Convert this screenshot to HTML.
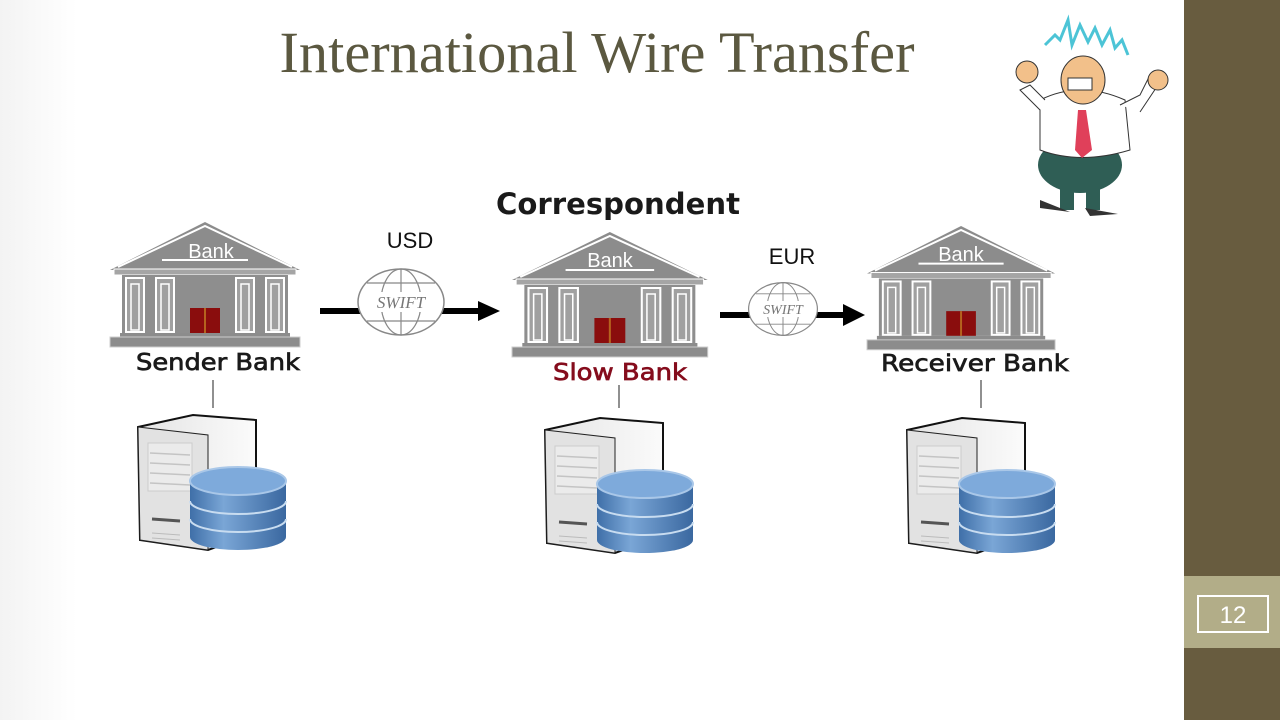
<!DOCTYPE html>
<html><head><meta charset="utf-8"><style>
html,body{margin:0;padding:0;width:1280px;height:720px;overflow:hidden;background:#fff}
</style></head><body>
<svg width="1280" height="720" viewBox="0 0 1280 720" xmlns="http://www.w3.org/2000/svg">
<defs>
<linearGradient id="bg" x1="0" y1="0" x2="1" y2="0"><stop offset="0" stop-color="#f3f3f3"/><stop offset="0.06" stop-color="#fff"/></linearGradient>
<linearGradient id="cyl" x1="0" y1="0" x2="1" y2="0"><stop offset="0" stop-color="#3f6fa8"/><stop offset="0.35" stop-color="#7aa6d6"/><stop offset="1" stop-color="#3a68a0"/></linearGradient>
<linearGradient id="tw" x1="0" y1="0" x2="1" y2="0"><stop offset="0" stop-color="#e4e4e4"/><stop offset="1" stop-color="#fbfbfb"/></linearGradient>
<g id="bank">
<polygon points="0,48 95,0 190,48" fill="#8c8c8c"/>
<polyline points="8,45 95,4 182,45" fill="none" stroke="#fff" stroke-width="2"/>
<line x1="52" y1="38" x2="138" y2="38" stroke="#fff" stroke-width="2"/>
<rect x="4" y="47" width="182" height="6" fill="#a5a5a5" stroke="#fff" stroke-width="1"/>
<rect x="12" y="53" width="166" height="58" fill="#8e8e8e"/>
<g fill="#a0a0a0" stroke="#fff" stroke-width="2">
<rect x="16" y="56" width="18" height="54"/><rect x="46" y="56" width="18" height="54"/>
<rect x="126" y="56" width="18" height="54"/><rect x="156" y="56" width="18" height="54"/>
</g>
<g fill="none" stroke="#fff" stroke-width="1.5">
<rect x="21" y="62" width="8" height="46"/><rect x="51" y="62" width="8" height="46"/>
<rect x="131" y="62" width="8" height="46"/><rect x="161" y="62" width="8" height="46"/>
</g>
<rect x="80" y="86" width="30" height="25" fill="#8a0d0d"/>
<line x1="95" y1="86" x2="95" y2="111" stroke="#b5631e" stroke-width="2"/>
<rect x="10" y="111" width="170" height="4" fill="#8c8c8c"/>
<rect x="0" y="115" width="190" height="10" fill="#8c8c8c" stroke="#ccc" stroke-width="1"/>
</g>
<g id="server">
<polygon points="0,12 55,0 118,5 118,118 70,135 2,125" fill="url(#tw)" stroke="#111" stroke-width="2"/>
<polygon points="0,12 70,20 70,135 2,125" fill="#e2e2e2" stroke="#222" stroke-width="1"/>
<rect x="10" y="28" width="44" height="48" fill="#ebebeb" stroke="#ccc"/>
<g stroke="#c4c4c4" stroke-width="1.5"><line x1="12" y1="38" x2="52" y2="40"/><line x1="12" y1="48" x2="52" y2="50"/><line x1="12" y1="58" x2="52" y2="60"/><line x1="12" y1="68" x2="52" y2="70"/></g>
<line x1="14" y1="104" x2="42" y2="106" stroke="#555" stroke-width="3"/>
<g stroke="#bbb"><line x1="14" y1="118" x2="42" y2="120"/><line x1="14" y1="123" x2="42" y2="125"/></g>
<path d="M52,66 L52,122 A48,13 0 0 0 148,122 L148,66 Z" fill="url(#cyl)"/>
<path d="M52,86 A48,13 0 0 0 148,86 M52,104 A48,13 0 0 0 148,104" fill="none" stroke="#c8dcf0" stroke-width="2"/>
<ellipse cx="100" cy="66" rx="48" ry="14" fill="#7eaadb" stroke="#a9c7e8" stroke-width="2"/>
</g>
<g id="swift">
<ellipse cx="0" cy="0" rx="43" ry="33" fill="#fff" stroke="#888" stroke-width="1.5"/>
<ellipse cx="0" cy="0" rx="20" ry="33" fill="none" stroke="#888" stroke-width="1.2"/>
<line x1="0" y1="-33" x2="0" y2="33" stroke="#888" stroke-width="1.2"/>
<line x1="-34" y1="-19" x2="34" y2="-19" stroke="#888" stroke-width="1.2"/>
<line x1="-34" y1="19" x2="34" y2="19" stroke="#888" stroke-width="1.2"/>
<rect x="-38" y="-10" width="76" height="20" fill="#fff"/>
</g>
</defs>
<rect width="1280" height="720" fill="url(#bg)"/>
<rect x="1184" y="0" width="96" height="720" fill="#685c3f"/>
<rect x="1184" y="576" width="96" height="72" fill="#b2ad88"/>
<rect x="1198" y="596" width="70" height="36" fill="none" stroke="#fff" stroke-width="2"/>
<text x="1233" y="623" font-family="Liberation Sans, sans-serif" font-size="24" fill="#fff" text-anchor="middle">12</text>

<text x="597" y="72" font-family="Liberation Serif, serif" font-size="58" fill="#5b5840" text-anchor="middle" textLength="635" lengthAdjust="spacingAndGlyphs">International Wire Transfer</text>

<g>
<polyline points="1045,45 1055,35 1060,40 1068,20 1072,45 1080,25 1088,42 1095,28 1102,45 1110,30 1115,48 1122,40 1128,55" fill="none" stroke="#4cc4d6" stroke-width="3"/>
<ellipse cx="1080" cy="165" rx="42" ry="28" fill="#2f5e55"/>
<path d="M1040,100 Q1080,80 1125,100 L1130,150 Q1080,165 1040,150 Z" fill="#fff" stroke="#333"/>
<polygon points="1078,110 1086,110 1092,150 1082,158 1075,150" fill="#e0405a"/>
<path d="M1040,110 L1020,90 L1030,85 L1045,100" fill="#fff" stroke="#333"/>
<path d="M1120,105 L1140,95 L1150,75 L1160,82 L1140,112" fill="#fff" stroke="#333"/>
<circle cx="1027" cy="72" r="11" fill="#f2c08a" stroke="#333"/>
<circle cx="1158" cy="80" r="10" fill="#f2c08a" stroke="#333"/>
<ellipse cx="1083" cy="80" rx="22" ry="24" fill="#f2c08a" stroke="#333"/>
<rect x="1068" y="78" width="24" height="12" fill="#fff" stroke="#333"/>
<rect x="1060" y="180" width="14" height="30" fill="#2f5e55"/>
<rect x="1086" y="180" width="14" height="30" fill="#2f5e55"/>
<polygon points="1040,200 1070,212 1040,208" fill="#333"/>
<polygon points="1085,208 1118,214 1090,216" fill="#333"/>
</g>

<use href="#bank" x="110" y="222"/>
<text x="211" y="258" font-family="Liberation Sans, sans-serif" font-size="20" fill="#fff" text-anchor="middle">Bank</text>
<use href="#bank" transform="translate(512,232) scale(1.03,1)"/>
<text x="610" y="267" font-family="Liberation Sans, sans-serif" font-size="20" fill="#fff" text-anchor="middle">Bank</text>
<use href="#bank" transform="translate(867,226) scale(0.99,0.99)"/>
<text x="961" y="261" font-family="Liberation Sans, sans-serif" font-size="20" fill="#fff" text-anchor="middle">Bank</text>

<g font-family="DejaVu Sans, sans-serif" font-size="23" stroke-width="0.7">
<text x="218" y="370" text-anchor="middle" fill="#1a1a1a" stroke="#1a1a1a" textLength="164" lengthAdjust="spacingAndGlyphs">Sender Bank</text>
<text x="620" y="380" text-anchor="middle" fill="#850c1c" stroke="#850c1c" textLength="134" lengthAdjust="spacingAndGlyphs">Slow Bank</text>
<text x="975" y="371" text-anchor="middle" fill="#1a1a1a" stroke="#1a1a1a" textLength="188" lengthAdjust="spacingAndGlyphs">Receiver Bank</text>
</g>
<text x="618" y="214" font-family="DejaVu Sans, sans-serif" text-anchor="middle" fill="#1a1a1a" font-size="29" font-weight="bold" textLength="244" lengthAdjust="spacingAndGlyphs">Correspondent</text>
<g font-family="Liberation Sans, sans-serif" font-size="22" fill="#111" text-anchor="middle">
<text x="410" y="248">USD</text><text x="792" y="264">EUR</text>
</g>

<rect x="320" y="308" width="160" height="6" fill="#000"/>
<polygon points="478,301 500,311 478,321" fill="#000"/>
<use href="#swift" x="401" y="302"/>
<text x="401" y="308" font-family="Liberation Serif, serif" font-style="italic" font-size="17" fill="#777" text-anchor="middle">SWIFT</text>
<rect x="720" y="312" width="125" height="6" fill="#000"/>
<polygon points="843,304 865,315 843,326" fill="#000"/>
<use href="#swift" transform="translate(783,309) scale(0.8)"/>
<text x="783" y="314" font-family="Liberation Serif, serif" font-style="italic" font-size="14" fill="#777" text-anchor="middle">SWIFT</text>

<g stroke="#222" stroke-width="1"><line x1="213" y1="380" x2="213" y2="408"/><line x1="619" y1="385" x2="619" y2="408"/><line x1="981" y1="380" x2="981" y2="408"/></g>

<use href="#server" x="138" y="415"/>
<use href="#server" x="545" y="418"/>
<use href="#server" x="907" y="418"/>
</svg>
</body></html>
